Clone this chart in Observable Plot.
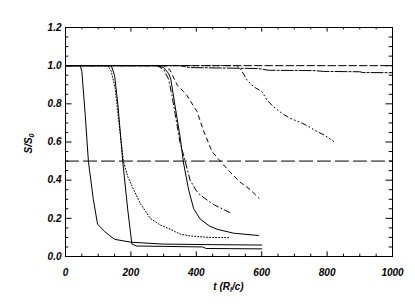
<!DOCTYPE html>
<html><head><meta charset="utf-8">
<script src="https://cdn.jsdelivr.net/npm/d3@7"></script>
<script src="https://cdn.jsdelivr.net/npm/@observablehq/plot@0.6"></script>
<style>html,body{margin:0;padding:0;background:#fff} svg{display:block}</style>
</head><body><div id="chart"></div>
<script>
// Tick values
const xMajor = [0, 200, 400, 600, 800, 1000];
const yMajor = [0, 0.2, 0.4, 0.6, 0.8, 1.0, 1.2];
const xMinor = d3.range(0, 1001, 50).filter(v => v % 200 !== 0);
const yMinor = d3.range(0, 25).map(i => i * 0.05).filter((v, i) => i % 4 !== 0);

// Series [t, S/S0]
const curveA = [[0,1],[45,1],[50,0.97],[60,0.75],[70,0.5],[85,0.3],[98,0.17],[120,0.13],[150,0.09],[200,0.075],[300,0.065],[450,0.062],[600,0.06]];
const curveB = [[0,1],[140,1],[150,0.95],[160,0.8],[175,0.5],[190,0.25],[203,0.065],[218,0.055],[300,0.053],[420,0.05],[430,0.042],[600,0.04]];
const curveC = [[0,1],[280,1],[300,0.99],[315,0.96],[322,0.93],[335,0.79],[351,0.62],[361,0.49],[376,0.354],[392,0.25],[412,0.196],[440,0.16],[463,0.143],[514,0.122],[590,0.11]];
const curveD = [[0,1],[130,1],[140,0.97],[152,0.88],[165,0.68],[177,0.5],[190,0.42],[203,0.37],[228,0.28],[259,0.2],[290,0.165],[320,0.143],[351,0.117],[381,0.108],[440,0.1],[504,0.099]];
const curveE = [[0,1],[280,1],[300,0.98],[315,0.93],[325,0.85],[335,0.75],[350,0.6],[366,0.5],[381,0.4],[400,0.345],[412,0.322],[453,0.272],[509,0.225]];
const curveF = [[0,1],[300,1],[320,0.976],[341,0.9],[371,0.845],[402,0.76],[422,0.66],[448,0.55],[478,0.49],[504,0.441],[534,0.39],[565,0.35],[592,0.305]];
const curveG = [[0,1],[520,1],[534,0.987],[555,0.925],[575,0.89],[601,0.864],[616,0.82],[636,0.785],[662,0.75],[687,0.724],[718,0.703],[743,0.682],[769,0.655],[794,0.634],[820,0.603]];
const curveH = [[0,1],[350,1],[380,0.99],[590,0.985],[620,0.976],[760,0.974],[790,0.97],[900,0.968],[910,0.964],[1000,0.963]];
const refTop = [[0,1],[1000,1]];
const refHalf = [[0,0.5],[1000,0.5]];

const W = 415, H = 307, mL = 65, mR = 23, mT = 27, mB = 51;
const pw = W - mL - mR, ph = H - mT - mB;
const tx = 6.5, tnx = 3.3, ty = 4.6, tny = 2.3;

const line = (d, dash) => Plot.line(d, {x: d => d[0], y: d => d[1], stroke: "#000", strokeWidth: 1, strokeDasharray: dash});

const plot = Plot.plot({
  width: W, height: H,
  marginLeft: mL, marginRight: mR, marginTop: mT, marginBottom: mB,
  x: {domain: [0, 1000]},
  y: {domain: [0, 1.2]},
  style: {fontFamily: "'Liberation Sans', Arial, sans-serif", fontSize: "10px", fontStyle: "italic", fontWeight: "bold", color: "#000", background: "#fff"},
  marks: [
    line(refHalf, "13,5"),
    line(refTop, "7.5,3"),
    line(curveH, "12,2,2,2"),
    line(curveG, "5,3,1,3,1,3,1,3"),
    line(curveF, "4,4"),
    line(curveE, "6,3,1,3"),
    line(curveD, "1,2"),
    line(curveC),
    line(curveB),
    line(curveA),
    Plot.frame({stroke: "#000", strokeWidth: 1}),
    Plot.ruleX(xMajor, {x: d => d, insetTop: ph - ty, stroke: "#000"}),
    Plot.ruleX(xMajor, {x: d => d, insetBottom: ph - ty, stroke: "#000"}),
    Plot.ruleX(xMinor, {x: d => d, insetTop: ph - tny, stroke: "#000"}),
    Plot.ruleX(xMinor, {x: d => d, insetBottom: ph - tny, stroke: "#000"}),
    Plot.ruleY(yMajor, {y: d => d, insetRight: pw - tx, stroke: "#000"}),
    Plot.ruleY(yMajor, {y: d => d, insetLeft: pw - tx, stroke: "#000"}),
    Plot.ruleY(yMinor, {y: d => d, insetRight: pw - tnx, stroke: "#000"}),
    Plot.ruleY(yMinor, {y: d => d, insetLeft: pw - tnx, stroke: "#000"}),
    Plot.axisX(xMajor, {tickSize: 0, tickPadding: 12, label: null, tickFormat: d3.format("d")}),
    Plot.axisY(yMajor, {tickSize: 0, tickPadding: 4, label: null, tickFormat: d3.format(".1f")})
  ]
});

const svg = d3.select(plot);
const xl = svg.append("text").attr("x", mL + pw / 2).attr("y", 290).attr("text-anchor", "middle")
  .attr("font-size", 10).attr("font-style", "italic").attr("font-weight", "bold").attr("fill", "#000");
xl.append("tspan").text("t (R");
xl.append("tspan").attr("font-size", 7).attr("dy", 2).text("l");
xl.append("tspan").attr("dy", -2).text("/c)");

const yl = svg.append("text").attr("transform", "translate(32,143.5) rotate(-90)").attr("text-anchor", "middle")
  .attr("font-size", 10).attr("font-style", "italic").attr("font-weight", "bold").attr("fill", "#000");
yl.append("tspan").text("S/S");
yl.append("tspan").attr("font-size", 7).attr("dy", 2).text("0");

document.getElementById("chart").appendChild(plot);
</script>
</body></html>
